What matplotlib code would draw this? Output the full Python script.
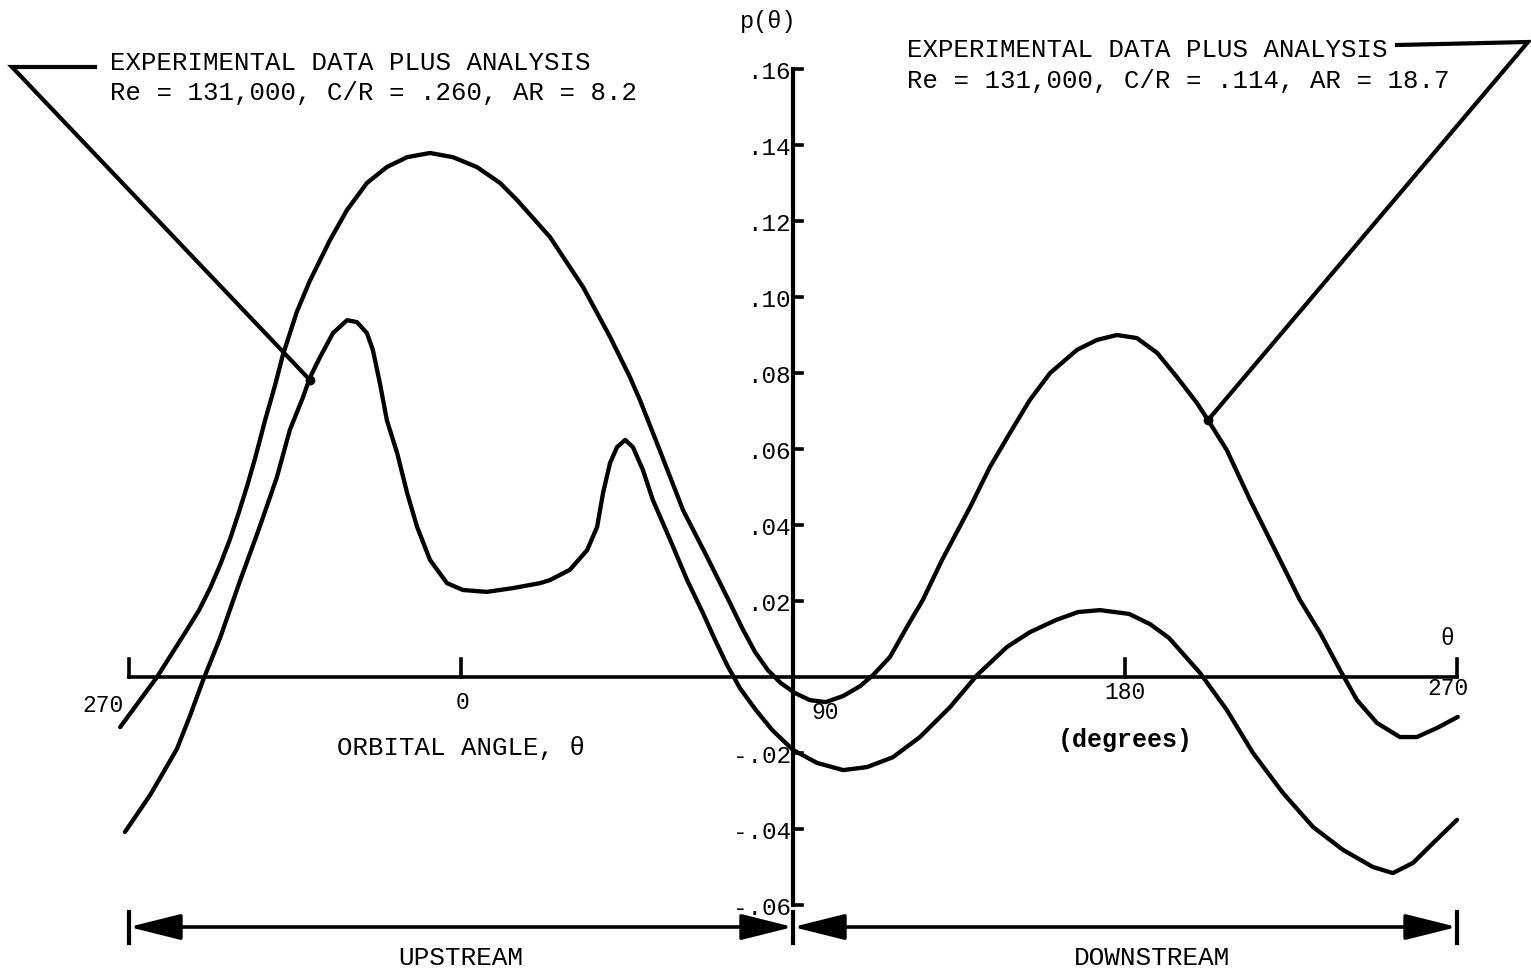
import matplotlib.pyplot as plt

# PENGATURAN
FIG_SIZE = (15.31, 9.71)
DPI = 100
FONT = 'Liberation Mono'
LW = 3.1

# DATA: ORBITAL ANGLE (derajat) DAN p(theta)
# kurva C/R = .114, AR = 18.7
THETA_114 = [-92.4, -82.4, -74.3, -71.0, -68.0, -65.3, -62.6, -60.2, -58.0,
             -55.8, -53.1, -50.4, -48.3, -44.5, -41.0, -35.5, -30.9, -25.5,
             -20.1, -14.6, -8.4, -2.2, 4.3, 10.6, 15.2, 24.1, 33.1, 40.4,
             45.8, 48.5, 53.1, 60.2, 66.7, 72.9, 76.2, 79.7, 83.2, 86.7,
             90.5, 94.6, 98.9, 103.6, 108.2, 111.7, 116.3, 120.9, 125.2,
             130.4, 138.0, 143.4, 148.8, 154.2, 159.7, 167.0, 172.4, 177.8,
             183.2, 188.7, 194.1, 199.5, 202.5, 207.6, 213.9, 221.2, 227.4,
             232.9, 238.3, 242.9, 248.3, 254.5, 259.1, 264.6, 270.2]
P_114 = [-0.0132, 0.0, 0.0124, 0.0176, 0.0234, 0.0295, 0.0363, 0.0434,
         0.0502, 0.0576, 0.0676, 0.0768, 0.0847, 0.0961, 0.1042, 0.1150,
         0.1229, 0.1300, 0.1342, 0.1368, 0.1379, 0.1368, 0.1342, 0.1300,
         0.1255, 0.1158, 0.1026, 0.0895, 0.0789, 0.0729, 0.0616, 0.0439,
         0.0316, 0.0195, 0.0129, 0.0066, 0.0018, -0.0016, -0.0042, -0.0061,
         -0.0066, -0.0050, -0.0024, 0.0005, 0.0053, 0.0132, 0.0203, 0.0308,
         0.0447, 0.0553, 0.0642, 0.0729, 0.0800, 0.0861, 0.0887, 0.0900,
         0.0892, 0.0853, 0.0789, 0.0721, 0.0676, 0.0597, 0.0466, 0.0324,
         0.0203, 0.0116, 0.0018, -0.0061, -0.0121, -0.0158, -0.0158,
         -0.0134, -0.0105]

# kurva C/R = .260, AR = 8.2
THETA_260 = [-91.1, -87.8, -84.3, -80.8, -77.0, -73.5, -69.9, -65.3, -59.9,
             -54.5, -49.9, -46.4, -42.8, -40.9, -38.2, -34.7, -30.9, -28.2,
             -25.5, -23.9, -22.0, -20.1, -17.3, -14.6, -11.9, -8.4, -3.8, 0.5,
             7.0, 14.1, 21.4, 24.1, 29.5, 34.2, 36.9, 38.5, 40.4, 42.3, 44.5,
             46.6, 49.3, 52.0, 56.7, 61.3, 65.6, 68.9, 72.1, 75.6, 79.7,
             84.3, 90.0, 96.5, 103.6, 110.1, 117.1, 124.4, 132.6, 139.9,
             148.0, 154.2, 161.3, 167.3, 173.2, 181.1, 186.8, 191.9, 200.3,
             207.6, 214.7, 222.8, 231.0, 239.1, 247.2, 252.6, 258.1, 263.5,
             270.0]
P_260 = [-0.0408, -0.0361, -0.0311, -0.0253, -0.0189, -0.0103, -0.0008,
         0.0103, 0.0253, 0.0397, 0.0526, 0.0650, 0.0737, 0.0789, 0.0842,
         0.0905, 0.0939, 0.0934, 0.0905, 0.0861, 0.0774, 0.0676, 0.0589,
         0.0484, 0.0395, 0.0308, 0.0247, 0.0229, 0.0224, 0.0234, 0.0247,
         0.0255, 0.0282, 0.0334, 0.0395, 0.0484, 0.0563, 0.0605, 0.0624,
         0.0605, 0.0545, 0.0466, 0.0361, 0.0255, 0.0168, 0.0097, 0.0032,
         -0.0029, -0.0084, -0.0139, -0.0192, -0.0226, -0.0245, -0.0237,
         -0.0211, -0.0158, -0.0079, 0.0005, 0.0079, 0.0118, 0.0150, 0.0171,
         0.0176, 0.0166, 0.0139, 0.0103, 0.0011, -0.0087, -0.0200, -0.0305,
         -0.0395, -0.0455, -0.0500, -0.0516, -0.0489, -0.0437, -0.0376]

X_TICKS = [-90, 0, 180, 270]
X_TICK_LABELS = ['270', '0', '180', '270']
Y_TICKS = [0.16, 0.14, 0.12, 0.10, 0.08, 0.06, 0.04, 0.02, -0.02, -0.04, -0.06]
Y_TICK_LABELS = ['.16', '.14', '.12', '.10', '.08', '.06', '.04', '.02',
                 '-.02', '-.04', '-.06']

LABEL_260 = ['EXPERIMENTAL DATA PLUS ANALYSIS',
             'Re = 131,000, C/R = .260, AR = 8.2']
LABEL_114 = ['EXPERIMENTAL DATA PLUS ANALYSIS',
             'Re = 131,000, C/R = .114, AR = 18.7']


# KONVERSI PIKSEL GAMBAR -> KOORDINAT DATA (untuk tata letak saja)
X0, XS = 461, 3.689
Y0, YS = 677, 3800.0


def px(x):
    return (x - X0) / XS


def py(y):
    return (Y0 - y) / YS


fig = plt.figure(figsize=FIG_SIZE, dpi=DPI)
ax = fig.add_axes([0, 0, 1, 1])
ax.set_xlim(px(0), px(1531))
ax.set_ylim(py(971), py(0))
ax.axis('off')

# KURVA
ax.plot(THETA_114, P_114, color='black', lw=LW, solid_joinstyle='round',
        solid_capstyle='round')
ax.plot(THETA_260, P_260, color='black', lw=LW, solid_joinstyle='round',
        solid_capstyle='round')

# SUMBU X
ax.plot([-90, 270], [0, 0], color='black', lw=2.6)
for t in X_TICKS:
    ax.plot([t, t], [0, 0.0047], color='black', lw=2.6)
txt = dict(family=FONT, color='black')
ax.text(px(103), py(705), X_TICK_LABELS[0], ha='center', va='center',
        fontsize=16.5, **txt)
ax.text(0.5, py(702), X_TICK_LABELS[1], ha='center', va='center',
        fontsize=16.5, **txt)
ax.text(180, py(692), X_TICK_LABELS[2], ha='center', va='center',
        fontsize=16.5, **txt)
ax.text(px(1448), py(688), X_TICK_LABELS[3], ha='center', va='center',
        fontsize=16.5, **txt)
ax.text(px(825), py(712), '90', ha='center', va='center', fontsize=16.5,
        **txt)
ax.text(px(1447), py(638), 'θ', ha='center', va='center', fontsize=16.5,
        **txt)
ax.text(0, py(748), 'ORBITAL ANGLE, θ', ha='center', va='center',
        fontsize=18.5, **txt)
ax.text(180, py(740), '(degrees)', ha='center', va='center', fontsize=18,
        fontweight='bold', **txt)

# SUMBU Y
ax.plot([90, 90], [-0.06, 0.16], color='black', lw=3.0)
for v, lab in zip(Y_TICKS, Y_TICK_LABELS):
    ax.plot([90, 92.4], [v, v], color='black', lw=2.6)
    ax.text(89.4, v - 0.0008, lab, ha='right', va='center', fontsize=17.5,
            **txt)
ax.text(px(768), py(22), 'p(θ)', ha='center', va='center', fontsize=17,
        **txt)

# KETERANGAN + GARIS PENUNJUK
ax.text(px(110), py(63), LABEL_260[0], ha='left', va='center',
        fontsize=18.5, **txt)
ax.text(px(110), py(93), LABEL_260[1], ha='left', va='center',
        fontsize=18.5, **txt)
ax.plot([px(95), px(12), -41.0], [py(67), py(67), 0.0782], color='black',
        lw=3.0, solid_joinstyle='miter')
ax.plot([-41.0], [0.0782], 'o', color='black', ms=6)

ax.text(px(907), py(50), LABEL_114[0], ha='left', va='center',
        fontsize=18.5, **txt)
ax.text(px(907), py(81), LABEL_114[1], ha='left', va='center',
        fontsize=18.5, **txt)
ax.plot([px(1397), px(1528), 202.5], [py(45), py(42), 0.0676],
        color='black', lw=3.0, solid_joinstyle='miter')
ax.plot([202.5], [0.0676], 'o', color='black', ms=6)

# UPSTREAM / DOWNSTREAM
y_arr = py(927)
for a, b in [(-90, 90), (90, 270)]:
    ax.annotate('', xy=(b, y_arr), xytext=(a, y_arr),
                arrowprops=dict(arrowstyle='<|-|>,head_length=1.6,'
                                'head_width=0.4', color='black', lw=2.6,
                                mutation_scale=20, shrinkA=0, shrinkB=0))
for t in [-90, 90, 270]:
    ax.plot([t, t], [py(912), py(943)], color='black', lw=3.0)
ax.text(0, py(958), 'UPSTREAM', ha='center', va='center', fontsize=18.8,
        **txt)
ax.text(px(1152), py(958), 'DOWNSTREAM', ha='center', va='center',
        fontsize=18.8, **txt)

plt.savefig('out.png', dpi=DPI)
plt.close(fig)
